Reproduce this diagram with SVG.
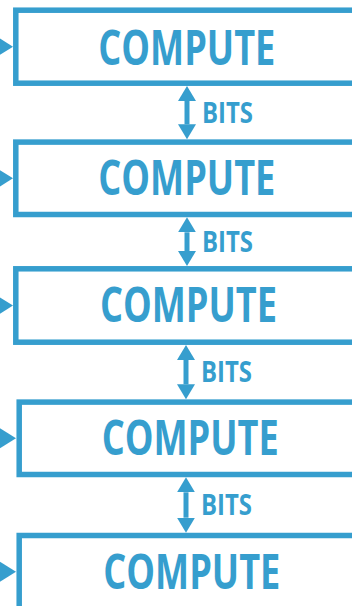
<svg xmlns="http://www.w3.org/2000/svg" width="352" height="606" viewBox="0 0 352 606">
  <defs>
    <style>
      .box { fill: #ffffff; stroke: #369ece; stroke-width: 5.5; }
      .tri { fill: #369ece; }
      .lbl { font-family: "Open Sans", "Liberation Sans", sans-serif; font-weight: 700; font-size: 48px; fill: #369ece; }
      .bits { font-family: "Open Sans", "Liberation Sans", sans-serif; font-weight: 700; font-size: 28.5px; fill: #369ece; }
      .link { stroke: #369ece; stroke-width: 5; fill: none; marker-start: url(#head); marker-end: url(#head); }
    </style>
    <marker id="head" viewBox="0 0 15 18" refX="0" refY="9" markerWidth="15" markerHeight="18" markerUnits="userSpaceOnUse" orient="auto-start-reverse">
      <path d="M0,0 L15,9 L0,18 z" fill="#369ece"/>
    </marker>
  </defs>
  <rect width="352" height="606" fill="#ffffff"/>

  <g id="node1">
    <rect class="box" x="15.8" y="10.2" width="400" height="73"/>
    <polygon class="tri" points="-3,36.7 13,46.7 -3,56.7"/>
    <text class="lbl" x="98.3" y="64.5" textLength="177" lengthAdjust="spacingAndGlyphs">COMPUTE</text>
  </g>
  <g id="node2">
    <rect class="box" x="15.8" y="142.1" width="400" height="72.4"/>
    <polygon class="tri" points="-3,168.3 13,178.3 -3,188.3"/>
    <text class="lbl" x="98.3" y="195" textLength="177" lengthAdjust="spacingAndGlyphs">COMPUTE</text>
  </g>
  <g id="node3">
    <rect class="box" x="15.8" y="268.8" width="400" height="73.4"/>
    <polygon class="tri" points="-3,295.5 13,305.5 -3,315.5"/>
    <text class="lbl" x="100" y="322" textLength="177" lengthAdjust="spacingAndGlyphs">COMPUTE</text>
  </g>
  <g id="node4">
    <rect class="box" x="19.2" y="402.1" width="400" height="72.4"/>
    <polygon class="tri" points="0,428.3 16,438.3 0,448.3"/>
    <text class="lbl" x="101.7" y="455" textLength="177" lengthAdjust="spacingAndGlyphs">COMPUTE</text>
  </g>
  <g id="node5">
    <rect class="box" x="19.2" y="535.5" width="400" height="80"/>
    <polygon class="tri" points="0,561.7 16,571.7 0,581.7"/>
    <text class="lbl" x="103.3" y="589" textLength="177" lengthAdjust="spacingAndGlyphs">COMPUTE</text>
  </g>

  <g id="connectors">
    <line class="link" x1="187" y1="101" x2="187" y2="124.3"/>
    <text class="bits" x="202" y="122.5" textLength="51" lengthAdjust="spacingAndGlyphs">BITS</text>
    <line class="link" x1="187" y1="232.3" x2="187" y2="251"/>
    <text class="bits" x="202" y="252" textLength="51" lengthAdjust="spacingAndGlyphs">BITS</text>
    <line class="link" x1="186" y1="360" x2="186" y2="384.3"/>
    <text class="bits" x="201" y="382" textLength="51" lengthAdjust="spacingAndGlyphs">BITS</text>
    <line class="link" x1="186" y1="492.3" x2="186" y2="517.7"/>
    <text class="bits" x="201" y="515" textLength="51" lengthAdjust="spacingAndGlyphs">BITS</text>
  </g>
</svg>
